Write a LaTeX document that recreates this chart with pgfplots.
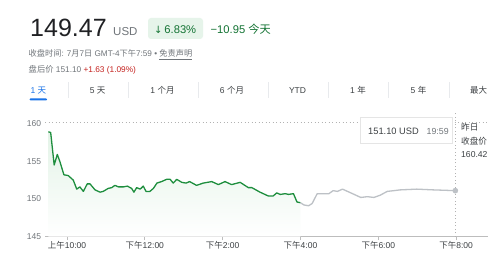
\documentclass[border=0pt]{standalone}
\usepackage{fontspec}
\setmainfont{Liberation Sans}
\newfontfamily\cjk{Noto Sans CJK SC}
\newfontfamily\djv{DejaVu Sans}
\usepackage{pgfplots}
\pgfplotsset{compat=1.18}
\definecolor{gtext}{HTML}{202124}
\definecolor{gdark}{HTML}{3C4043}
\definecolor{ggray}{HTML}{70757A}
\definecolor{ggreen}{HTML}{137333}
\definecolor{gline}{HTML}{1E8E3E}
\definecolor{gbg}{HTML}{E6F4EA}
\definecolor{gfill}{HTML}{E3F3E7}
\definecolor{gred}{HTML}{C5221F}
\definecolor{gblue}{HTML}{1A73E8}
\definecolor{glight}{HTML}{BDC1C6}
\definecolor{gaxis}{HTML}{BDBDBD}
\definecolor{gsep}{HTML}{E8EAED}
\begin{document}
\begin{tikzpicture}[x=1pt,y=1pt]
\fill[white] (0,0) rectangle (500,260);
% header
\node[anchor=base west, inner sep=0, text=gtext] at (30,223) {\fontsize{25}{25}\selectfont 149.47};
\node[anchor=base west, inner sep=0, text=ggray] at (113,224) {\fontsize{11.5}{12}\selectfont USD};
\fill[gbg, rounded corners=3] (148,221) rectangle (203,242);
\node[anchor=base west, inner sep=0, text=ggreen] at (154,226) {\fontsize{11.2}{12}\selectfont{\djv\fontsize{10}{12}\selectfont ↓}\,6.83\%};
\node[anchor=base west, inner sep=0, text=ggreen] at (210.5,226) {\fontsize{11.2}{12}\selectfont −10.95 {\cjk 今天}};
\node[anchor=base west, inner sep=0, text=ggray] at (28.5,203) {\fontsize{8.2}{10}\selectfont {\cjk 收盘时间}: 7{\cjk 月}7{\cjk 日} GMT-4{\cjk 下午}7:59 • \underline{\cjk 免责声明}};
\node[anchor=base west, inner sep=0, text=ggray] at (28.5,187.5) {\fontsize{8.3}{10}\selectfont {\cjk 盘后价} 151.10 \textcolor{gred}{+1.63 (1.09\%)}};
% tabs
\foreach \xx/\lab in {97.7/{5 {\cjk 天}}, 162.5/{1 {\cjk 个月}}, 232/{6 {\cjk 个月}}, 297.5/{YTD}, 358/{1 {\cjk 年}}, 418.5/{5 {\cjk 年}}, 478.5/{{\cjk 最大}}}
  \node[anchor=base, inner sep=0, text=gdark] at (\xx,166.5) {\fontsize{8.5}{10}\selectfont \lab};
\node[anchor=base, inner sep=0, text=gblue] at (38.3,166.5) {\fontsize{8.5}{10}\selectfont 1 {\cjk 天}};
\fill[gblue, rounded corners=1] (29.5,159.5) rectangle (47,161.7);
\foreach \xx in {68,128,198,268,328,388,449}
  \draw[gsep, line width=0.8pt] (\xx,162) -- (\xx,178);
% chart
\begin{axis}[
  at={(45pt,23.3pt)}, anchor=south west,
  scale only axis, width=443pt, height=120.8pt,
  xmin=9.434, xmax=20.82, ymin=145, ymax=161,
  axis x line=bottom, axis y line=left,
  axis line style={-},
  y axis line style={draw=none},
  x axis line style={gaxis, line width=1.2pt},
  xtick={10,12,14,16,18,20},
  xticklabels={{\cjk 上午}10:00,{\cjk 下午}12:00,{\cjk 下午}2:00,{\cjk 下午}4:00,{\cjk 下午}6:00,{\cjk 下午}8:00},
  xtick align=outside,
  xtick style={gaxis, line width=0.8pt},
  major tick length=3.5pt,
  ytick={145,150,155,160},
  ytick style={draw=none},
  /pgf/number format/assume math mode=true,
  yticklabel style={font=\fontsize{8.5}{10}\selectfont, text=ggray, inner sep=0pt, xshift=-2pt},
  xticklabel style={font=\fontsize{8.5}{10}\selectfont, text=gdark, inner sep=0pt, yshift=-1pt},
  clip=false,
]
\addplot[draw=none, top color=gfill, bottom color=white, forget plot] coordinates {
(9.52,145)(9.52,158.9)(9.58,158.8)(9.67,154.5)(9.75,155.9)(9.82,154.9)(9.92,153.2)(10.03,153.1)(10.16,152.5)(10.25,151.3)(10.33,151.6)(10.42,151.0)(10.52,152.0)(10.59,152.0)(10.72,151.2)(10.85,150.9)(10.93,151.0)(11.06,151.4)(11.15,151.5)(11.23,151.8)(11.32,151.6)(11.45,151.6)(11.55,151.7)(11.66,151.4)(11.72,150.9)(11.79,151.5)(11.88,151.3)(11.96,151.7)(12.03,151.0)(12.13,151.0)(12.22,151.4)(12.31,152.1)(12.43,152.3)(12.56,152.6)(12.65,152.6)(12.73,152.1)(12.82,152.6)(12.95,152.2)(13.06,152.1)(13.15,152.3)(13.33,151.8)(13.50,152.1)(13.72,152.3)(13.89,151.9)(14.06,152.3)(14.23,151.9)(14.45,152.2)(14.66,151.5)(14.75,151.5)(14.96,150.9)(15.17,150.4)(15.30,150.4)(15.39,150.8)(15.48,150.6)(15.61,150.7)(15.69,150.6)(15.82,150.7)(15.91,149.6)(16.00,149.5)(16.00,145)
} -- cycle;
\addplot[gray!60, line width=0.6pt, dash pattern=on 1pt off 2.5pt] coordinates {(9.434,160.2)(20.82,160.2)};
\addplot[gray!60, line width=0.6pt, dash pattern=on 1pt off 2.5pt] coordinates {(19.98,145)(19.98,161.5)};
\addplot[gline, line width=1.3pt, line join=round] coordinates {
(9.52,158.9)(9.58,158.8)(9.67,154.5)(9.75,155.9)(9.82,154.9)(9.92,153.2)(10.03,153.1)(10.16,152.5)(10.25,151.3)(10.33,151.6)(10.42,151.0)(10.52,152.0)(10.59,152.0)(10.72,151.2)(10.85,150.9)(10.93,151.0)(11.06,151.4)(11.15,151.5)(11.23,151.8)(11.32,151.6)(11.45,151.6)(11.55,151.7)(11.66,151.4)(11.72,150.9)(11.79,151.5)(11.88,151.3)(11.96,151.7)(12.03,151.0)(12.13,151.0)(12.22,151.4)(12.31,152.1)(12.43,152.3)(12.56,152.6)(12.65,152.6)(12.73,152.1)(12.82,152.6)(12.95,152.2)(13.06,152.1)(13.15,152.3)(13.33,151.8)(13.50,152.1)(13.72,152.3)(13.89,151.9)(14.06,152.3)(14.23,151.9)(14.45,152.2)(14.66,151.5)(14.75,151.5)(14.96,150.9)(15.17,150.4)(15.30,150.4)(15.39,150.8)(15.48,150.6)(15.61,150.7)(15.69,150.6)(15.82,150.7)(15.91,149.6)(16.00,149.5)
};
\addplot[glight, line width=1.3pt, line join=round] coordinates {
(16.00,149.5)(16.09,149.2)(16.21,149.1)(16.30,149.4)(16.43,150.7)(16.56,150.7)(16.73,150.7)(16.84,151.1)(16.95,151.0)(17.08,151.3)(17.21,151.0)(17.38,150.6)(17.55,150.2)(17.72,150.3)(17.89,150.2)(18.05,150.5)(18.23,151.0)(18.40,151.1)(18.56,151.2)(18.99,151.3)(19.42,151.2)(19.98,151.1)
};
\addplot[only marks, mark=*, mark size=2.6pt, glight, mark options={fill=glight, draw=glight}] coordinates {(19.98,151.1)};
\end{axis}
% tooltip
\fill[black!8] (361,116.3) rectangle (452.8,142);
\fill[white, draw=black!10, line width=0.4pt] (360.5,117) rectangle (452,142.5);
\node[anchor=base west, inner sep=0, text=gdark] at (368,125) {\fontsize{9.3}{10}\selectfont 151.10 USD};
\node[anchor=base west, inner sep=0, text=ggray] at (426.5,125) {\fontsize{8.8}{10}\selectfont 19:59};
% previous close
\node[anchor=base west, inner sep=0, text=gdark] at (461,130) {\fontsize{8.6}{10}\selectfont\cjk 昨日};
\node[anchor=base west, inner sep=0, text=gdark] at (461,116) {\fontsize{8.6}{10}\selectfont\cjk 收盘价};
\node[anchor=base west, inner sep=0, text=gdark] at (461,103) {\fontsize{8.6}{10}\selectfont 160.42};
\end{tikzpicture}
\end{document}
